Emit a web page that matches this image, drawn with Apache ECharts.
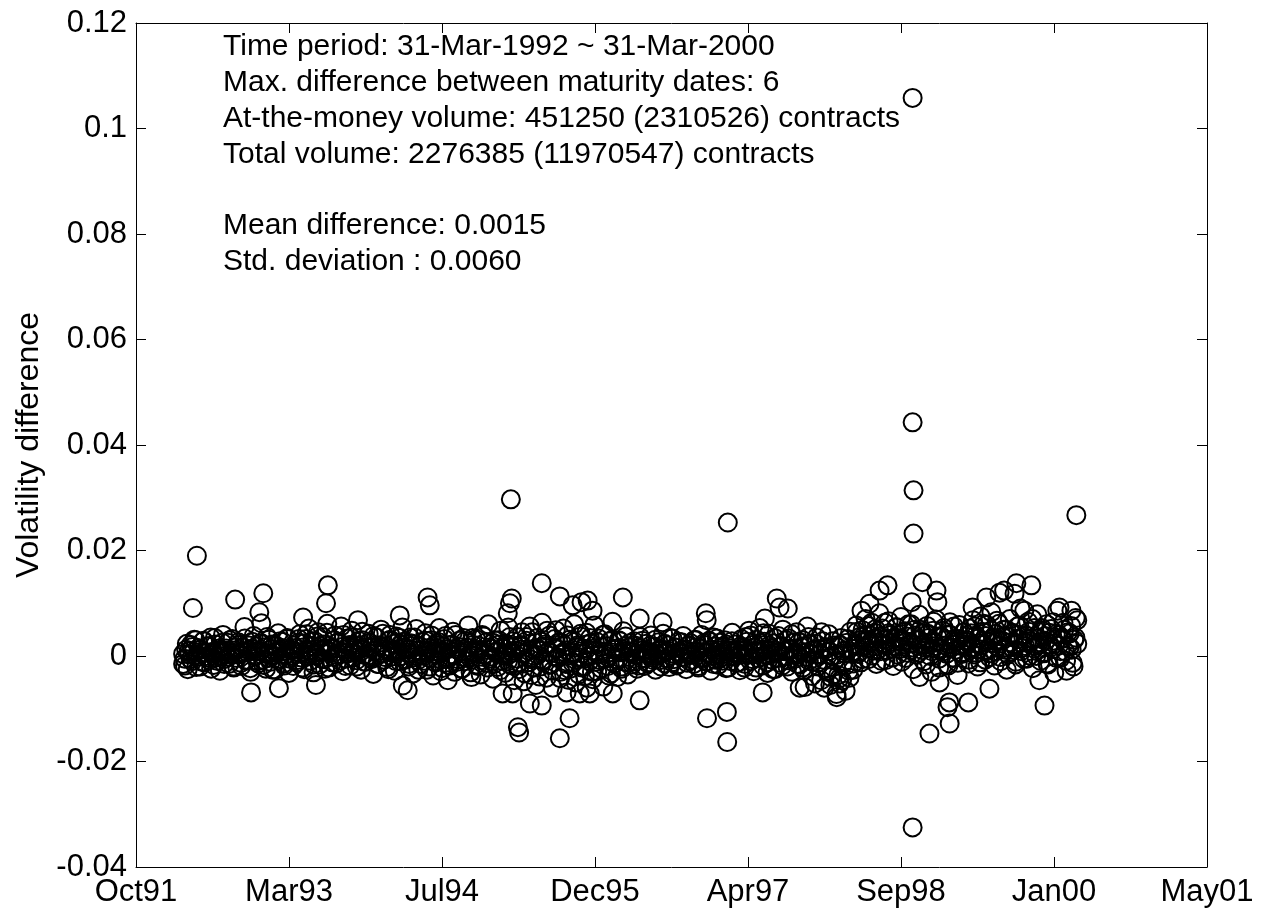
<!DOCTYPE html>
<html>
<head>
<meta charset="utf-8">
<script src="https://cdn.jsdelivr.net/npm/echarts@6/dist/echarts.min.js"></script>
<style>
html,body{margin:0;padding:0;background:#fff;}
#chart{width:1269px;height:917px;}
</style>
</head>
<body>
<div id="chart"></div>
<script>
// ---------- data ----------
const xTickLabels = ['Oct91','Mar93','Jul94','Dec95','Apr97','Sep98','Jan00','May01'];
const xAxisOrigin = '1991-10-29';   // date of the first tick (Oct91)
const xTickStepDays = 500;

const sampleStart = '1992-03-31';
const sampleEnd = '2000-03-31';

// volatility differences (first maturity pair), in date order (Apr .. Mar of next year)
const diffs1992 = [-0.0015,-0.0005,0.0012,-0.0025,0.0003,0.0021,-0.001,0.0008,0.003,-0.0002,
0.0015,-0.002,0.0005,0.0028,-0.0012,0,0.0018,-0.0008,0.0035,0.0006,
-0.0017,0.0022,-0.0003,0.001,-0.0028,0.0009,0.004,-0.0006,0.0014,0.0025,
-0.0015,0.0002,0.0032,-0.0022,0.0011,-0.0004,0.0026,0.0004,-0.0019,0.0017,
0.0055,-0.0009,0.0007,0.002,-0.003,0.0013,0.0038,-0.0001,0.0009,-0.0014,
0.0024,0.0062,-0.0007,0.0016,-0.0024,0.0005,0.0031,-0.0011,0.0022,0.0001,
-0.0026,0.0019,0.0043,-0.0005,0.0008,0.0027,-0.0018,0.0003,0.0034,-0.0032,
0.0012,0,0.002];
const diffs1993 = [0.0008,-0.0012,0.0025,0.0041,-0.0003,0.0016,-0.0025,0.0032,0.0004,0.0052,
-0.0009,0.0019,-0.0031,0.0028,0.0001,0.0045,-0.0016,0.001,0.0036,-0.0006,
0.0022,0.0061,-0.0022,0.0007,0.0015,-0.0002,0.0039,-0.0014,0.0026,0.0003,
0.0056,-0.0029,0.0012,-0.0005,0.0033,0.0018,-0.0018,0.0048,0.0006,0.0021,
-0.0008,0.0068,0.0014,-0.0026,0.003,0.0002,-0.0011,0.0024,0.0042,-0.0004,
0.0017,-0.0034,0.0009,0.0035,-0.0015,0.002,0.005,0.0005,-0.0007,0.0013,
-0.0021,0.0029,0.004,-0.0001,0.0011,-0.0028,0.0037,0.0008,-0.001,0.0023,
0.0054,-0.0006,0.0016];
const diffs1994 = [0.0012,-0.002,0.0035,0.0004,-0.0033,0.0022,0.0051,-0.0008,0.001,-0.0015,
0.0027,0,0.0043,-0.0026,0.0015,-0.0004,0.003,-0.0037,0.0009,0.0024,
-0.0011,0.0053,0.0006,-0.0023,0.0018,0.0038,-0.0002,-0.0017,0.002,0.0003,
0.0046,-0.003,0.0013,-0.0006,0.0029,0.0008,-0.0024,0.0034,-0.001,0.0016,
0.0058,-0.0003,-0.004,0.0021,0.0005,0.0032,-0.0019,0.0011,-0.0035,0.004,
0.0002,0.0025,-0.0013,0.006,-0.0005,0.0014,-0.0043,0.003,0.0007,-0.0021,
0.0022,0.0048,-0.0009,0.0004,-0.0032,0.0019,0.0054,-0.0016,0.0009,0.0028,
-0.0046,0.001,0.0036];
const diffs1995 = [-0.0025,0.0018,0.0045,-0.0048,0.0006,0.0029,-0.0012,0.0056,-0.0036,0.0013,
0,-0.0055,0.0034,0.001,-0.002,0.0063,-0.0007,0.0022,-0.0041,0.0008,
0.0039,-0.0016,-0.006,0.0015,0.0049,-0.0004,0.0026,-0.003,0.0003,0.0052,
-0.0027,0.0011,-0.0045,0.0031,0.0005,-0.0013,0.006,-0.005,0.002,-0.0002,
0.0037,-0.0022,0.0014,-0.0038,0.0044,0.0001,-0.001,0.0025,-0.0044,0.0058,
0.0009,-0.0029,0.0033,-0.0008,0.0017,-0.0058,0.0041,0.0004,-0.0019,0.0028,
-0.0033,0.0065,0.0012,-0.0006,-0.004,0.003,0.0007,-0.0024,0.0047,-0.0011,
0.0019,-0.0035,0.0024];
const diffs1996 = [0.0009,-0.0016,0.0028,0.0002,-0.0024,0.0015,0.0036,-0.0005,0.0011,-0.0019,
0.0023,0.0006,-0.0012,0.0039,-0.0003,0.0018,-0.0026,0.0004,0.0026,-0.0008,
0.0013,0.0042,-0.0014,0.0008,0.002,-0.0021,0.0001,0.0033,-0.0006,0.0016,
-0.0018,0.0027,0.0005,-0.0002,0.0038,0.001,-0.0025,0.0019,-0.0009,0.0024,
0.0003,-0.0015,0.0031,0.0007,-0.0022,0.0014,0.004,-0.0004,0.0021,-0.0011,
0.0006,0.0029,-0.0028,0.0012,0.0035,-0.0007,0.0002,-0.0017,0.0025,0.0017,
-0.0001,0.003,-0.0023,0.0009,0.0015,-0.001,0.0044,0,0.0022,-0.0013,
0.0011,-0.0027,0.0032];
const diffs1997 = [0.0014,-0.0022,0.0036,0.0005,0.0048,-0.001,0.0021,-0.0029,0.001,0.0031,
-0.0004,0.0053,0.0008,-0.0018,0.0027,0.0002,-0.0032,0.0042,0.0015,-0.0007,
0.0024,-0.0025,0.0006,0.0038,-0.0013,0.0019,0.005,-0.0001,0.0009,-0.002,
0.0033,0.0012,-0.003,0.0026,-0.0005,0.0045,0.0003,-0.0016,0.0017,0.003,
-0.0027,0.0007,0.0056,-0.0009,0.0022,-0.0038,0.0011,-0.0052,0.0035,-0.0012,
0.0004,-0.0046,0.0028,-0.006,0.0013,-0.0024,0.0041,-0.0055,0,-0.0035,
0.002,-0.0072,0.0016,-0.0042,0.0034,-0.0017,0.0005,-0.0066,0.0025,-0.0028,
0.0046,0.0008,-0.0014];
const diffs1998 = [0.0023,0.0058,0.0004,0.0036,-0.0012,0.0049,0.0017,0.007,0.0029,-0.0006,
0.0039,0.0063,0.001,0.0044,-0.0015,0.0026,0.0081,0.0009,0.0052,0.0031,
-0.0008,0.002,0.0066,0.004,0.0014,-0.0019,0.0033,0.0055,0.0002,0.0028,
0.0074,0.0018,0.0046,-0.0004,0.0037,0.006,0.0011,0.0024,-0.0025,0.005,
0.003,0.0006,0.0078,0.0021,0.0043,-0.001,0.0015,0.0057,0.0034,0,
-0.003,0.0048,0.0025,0.0069,0.0013,-0.0022,0.0038,0.0008,0.0053,0.002,
-0.0016,0.0041,0.0064,0.0016,-0.0003,0.0032,0.0027,-0.0036,0.0059,0.0019,
0.0004,0.0045,0.0022];
const diffs1999 = [0.003,-0.0014,0.0052,0.0016,0.0068,0.0003,0.0039,-0.002,0.0024,0.0075,
0.0046,0.001,-0.0007,0.0059,0.0028,0.0005,0.0083,0.0035,-0.0018,0.0042,
0.0018,0.0061,-0.0002,0.0029,0.005,0.0012,-0.0026,0.0037,0.007,0.0008,
0.0044,0.0021,-0.0011,0.0056,0.0032,0.009,0.0015,-0.0005,0.004,0.0025,
0.0065,0.0001,0.0033,-0.0023,0.0053,0.0019,0.0079,0.0026,-0.0009,0.0048,
0.0007,0.0038,0.006,-0.0016,0.0022,0.0051,0.0013,-0.0032,0.0041,0.0086,
0.002,-0.0004,0.0034,0.0063,0.0009,-0.0028,0.0045,0.0017,0.0057,-0.0013,
0.0031,0.0072,0.0023];

// volatility differences (second maturity pair), in date order
const pair2_1992 = [0.0004,-0.0018,0.0023,0.0009,-0.0006,0.0017,0.0031,-0.0021,0.0002,0.0012,
-0.0011,0.0029,0.0006,-0.0003,0.0019,-0.0024,0.0008,0.0034,-0.0009,0.0014,
0,0.0025,-0.0015,0.001,-0.0002,0.003,0.0005,-0.002,0.0016,0.0003,
0.0021,-0.0013,0.0007,0.0033,-0.0007,0.0011,-0.0023,0.0027,0.0001,0.0018,
-0.001,0.0009,0.0024,-0.0017,0.0004,0.0036,-0.0004,0.0013,-0.0026,0.002,
0.0006,-0.0008,0.0028,0.0015,-0.0014,0.0002,0.0032,-0.0005,0.001,-0.0019];
const pair2_1993 = [0.0015,-0.0008,0.0032,0.0004,-0.0022,0.0024,0.0041,-0.0001,0.0011,0.0028,
-0.0016,0.0007,0.0037,0.0019,-0.0005,0.0022,-0.0024,0.0044,0.0009,0.0014,
-0.0012,0.003,0.0002,0.0026,-0.0009,0.0017,0.004,-0.0019,0.0005,0.0021,
0.0035,-0.0003,0.0012,-0.002,0.0029,0.0008,0.0046,-0.0011,0.0016,0.0001,
0.0025,-0.0006,0.0038,0.001,-0.0015,0.002,0.0004,0.0042,-0.0002,0.0018,
-0.0025,0.0031,0.0006,0.0023,-0.001,0.0013,0.0034,0,0.0027,-0.0007];
const pair2_1994 = [0.0006,-0.0015,0.0024,-0.0003,0.0035,0.0011,-0.0026,0.0018,0.0002,-0.0009,
0.0029,0.0008,-0.002,0.0039,0.0004,-0.0012,0.0015,0.0026,-0.0029,0.0009,
0.0032,-0.0006,0.0013,-0.0018,0.0022,0,0.004,-0.0011,0.0017,-0.0024,
0.0005,0.0028,-0.0004,0.001,-0.0031,0.0034,0.0007,-0.0016,0.002,0.0012,
-0.0008,0.0037,0.0003,-0.0022,0.0016,-0.0001,0.0025,-0.0014,0.0009,0.003,
-0.0027,0.0014,0.0001,0.0023,-0.001,0.0036,0.0006,-0.0019,0.0019,-0.0005];
const pair2_1995 = [-0.0012,0.0021,0.0004,-0.0033,0.0036,0.001,-0.0006,0.0045,-0.0022,0.0015,
0.0002,-0.0039,0.0027,-0.0009,0.0018,0.0048,-0.0017,0.0006,-0.0028,0.0032,
0.0013,-0.0003,-0.0042,0.0024,0.0008,-0.0015,0.0039,-0.0025,0.0001,0.0029,
-0.0007,0.0016,-0.0035,0.0042,0.0005,-0.0019,0.0022,-0.0002,0.0034,-0.003,
0.0011,-0.0011,0.0026,0.0003,-0.0024,0.004,-0.0005,0.0019,-0.0037,0.0007,
0.0031,-0.0014,0.0014,-0.0008,0.0028,-0.002,0.0009,0.0037,-0.0013,0.0017];
const pair2_1996 = [0.0007,-0.0011,0.002,0.0003,-0.0018,0.0014,0.0029,-0.0004,0.0009,-0.0014,
0.0019,0.0005,-0.0008,0.0031,0.0001,0.0012,-0.002,0.0006,0.0023,-0.0005,
0.001,0.0034,-0.0012,0.0004,0.0016,-0.0016,0.0008,0.0026,-0.0002,0.0013,
-0.0013,0.0021,0.0002,-0.0007,0.003,0.0009,-0.0019,0.0015,-0.0003,0.0024,
0.0006,-0.001,0.0027,0,-0.0015,0.0018,0.0033,-0.0006,0.0011,-0.0009,
0.0004,0.0022,-0.0022,0.001,0.0028,-0.0001,0.0007,-0.0013,0.0017,0.0002];
const pair2_1997 = [0.001,-0.0015,0.0027,0.0003,0.0039,-0.0006,0.0016,-0.0022,0.0007,0.0024,
-0.0001,0.0043,0.0012,-0.0012,0.002,0.0004,-0.0025,0.0034,0.001,-0.0004,
0.0018,-0.0018,0.0009,0.003,-0.0008,0.0014,0.0041,0.0002,0.0006,-0.0015,
0.0026,0.0008,-0.0022,0.0019,-0.0002,0.0036,0.0005,-0.0011,0.0013,0.0023,
-0.002,0.0003,0.0045,-0.0007,0.0017,-0.003,0.0009,-0.004,0.0028,-0.0009,
0.0002,-0.0036,0.0021,-0.0046,0.001,-0.0018,0.0032,-0.0041,0.0004,-0.0026];
const pair2_1998 = [0.002,0.0046,0.0008,0.003,-0.0006,0.004,0.0015,0.0057,0.0025,0.0001,
0.0033,0.0051,0.0012,0.0037,-0.0009,0.0022,0.0063,0.001,0.0043,0.0027,
-0.0003,0.0018,0.0054,0.0034,0.0013,-0.0011,0.0029,0.0047,0.0006,0.0023,
0.006,0.0016,0.0039,0.0002,0.0031,0.005,0.0011,0.0021,-0.0016,0.0042,
0.0026,0.0009,0.0065,0.0019,0.0036,-0.0005,0.0014,0.0048,0.003,0.0004,
-0.0018,0.004,0.0022,0.0056,0.0012,-0.0013,0.0032,0.0007,0.0045,0.0018];
const pair2_1999 = [0.0026,-0.0007,0.0043,0.0014,0.0056,0.0006,0.0033,-0.0012,0.0021,0.0061,
0.0038,0.0011,-0.0002,0.0048,0.0024,0.0008,0.0067,0.003,-0.001,0.0036,
0.0016,0.005,0.0003,0.0026,0.0042,0.0011,-0.0016,0.0032,0.0058,0.0009,
0.0037,0.0019,-0.0005,0.0046,0.0028,0.007,0.0014,0,0.0034,0.0022,
0.0053,0.0005,0.0029,-0.0014,0.0044,0.0017,0.0064,0.0023,-0.0004,0.004,
0.0009,0.0032,0.005,-0.0009,0.002,0.0043,0.0012,-0.002,0.0035,0.0068];

// larger deviations, with their dates
const spikeDates = [
'1992-05-15','1992-05-02','1992-09-17','1992-12-18','1992-12-05','1993-07-17','1993-07-11','1993-04-27',
'1992-11-08','1993-02-07','1993-06-08',
'1994-06-08','1994-06-15','1994-03-09','1995-03-10','1995-03-04','1995-02-25','1995-06-16','1995-08-14',
'1995-09-25','1995-10-24','1995-03-07',
'1994-04-04','1994-03-19','1994-08-13','1995-02-08','1995-03-13','1995-05-08','1995-06-16','1995-03-30',
'1995-04-03','1995-09-15','1995-08-14','1995-09-05','1995-10-18',
'1996-03-07','1995-11-13','1995-11-29','1996-05-01','1996-07-15','1996-12-03','1996-12-06',
'1997-07-23','1997-08-01','1997-08-28','1997-06-14',
'1995-11-10','1995-11-20','1996-02-03','1996-05-01','1996-12-07','1997-02-10','1997-02-11',
'1997-06-07','1997-10-06','1997-02-13',
'1998-07-20','1998-06-24','1998-05-22','1998-04-26','1998-11-11','1998-12-27','1998-12-30','1998-10-07',
'1999-06-08','1999-07-21','1999-09-14','1999-04-24','1999-11-02','2000-02-02','2000-03-12',
'1999-08-05','1999-09-08','1999-10-10',
'1998-10-10','1998-10-10','1998-10-13','1998-10-13','1998-10-10',
'1997-10-22','1998-02-04','1998-02-14','1998-11-01','1999-01-06','1999-02-07','1999-02-01','1999-04-10',
'1999-02-08','1998-12-04','1999-06-18','1999-12-15','1999-11-28',
'2000-03-28'
];
const spikeValues = [
0.0190,0.0091,0.0107,0.0119,0.0083,0.0134,0.0100,0.0073,
-0.0069,-0.0061,-0.0055,
0.0111,0.0096,0.0077,0.0109,0.0100,0.0081,0.0138,0.0113,
0.0096,0.0102,0.0297,
-0.0065,-0.0056,-0.0046,-0.0071,-0.0071,-0.0090,-0.0094,-0.0135,
-0.0145,-0.0118,-0.0156,-0.0069,-0.0071,
0.0111,0.0105,0.0086,0.0071,0.0064,0.0081,0.0068,
0.0109,0.0092,0.0090,0.0071,
-0.0060,-0.0071,-0.0071,-0.0084,-0.0118,-0.0106,-0.0163,
-0.0069,-0.0060,0.0253,
0.0134,0.0124,0.0099,0.0086,0.0140,0.0124,0.0102,0.0102,
0.0111,0.0120,0.0138,0.0092,0.0134,0.0092,0.0086,
0.0124,0.0118,0.0086,
0.1058,0.0443,0.0314,0.0232,-0.0325,
-0.0059,-0.0078,-0.0052,-0.0040,-0.0050,-0.0088,-0.0097,-0.0088,
-0.0128,-0.0147,-0.0062,-0.0094,-0.0046,
0.0267
];

const annotationLines = [
'Time period: 31-Mar-1992 ~ 31-Mar-2000',
'Max. difference between maturity dates: 6',
'At-the-money volume: 451250 (2310526) contracts',
'Total volume: 2276385 (11970547) contracts',
'',
'Mean difference: 0.0015',
'Std. deviation : 0.0060'
];
const yAxisTitle = 'Volatility difference';

// ---------- build ----------
const DAY = 86400000;
function toUTC(s){ const p = s.split('-').map(Number); return Date.UTC(p[0], p[1]-1, p[2]); }
const originMs = toUTC(xAxisOrigin);
function dayOffset(s){ return (toUTC(s) - originMs) / DAY; }

const startDay = dayOffset(sampleStart), endDay = dayOffset(sampleEnd);
function spread(values){
  const step = (endDay - startDay) / (values.length - 1);
  return values.map((v, i) => [startDay + i * step, v]);
}
const firstPair = [].concat(diffs1992, diffs1993, diffs1994, diffs1995, diffs1996, diffs1997, diffs1998, diffs1999);
const secondPair = [].concat(pair2_1992, pair2_1993, pair2_1994, pair2_1995, pair2_1996, pair2_1997, pair2_1998, pair2_1999);
const points = spread(firstPair).concat(spread(secondPair));
spikeDates.forEach((d, i) => points.push([dayOffset(d), spikeValues[i]]));

const FONT = '"Liberation Sans", Arial, Helvetica, sans-serif';
const xMax = xTickStepDays * (xTickLabels.length - 1);

function yFmt(v){ return String(parseFloat(Number(v).toFixed(2))); }

const baseX = {
  type: 'value', min: 0, max: xMax, interval: xTickStepDays,
  axisLine: { show: true, onZero: false, lineStyle: { color: '#000', width: 1 } },
  axisTick: { show: true, inside: true, length: 10, lineStyle: { color: '#000', width: 1 } },
  splitLine: { show: false }
};
const baseY = {
  type: 'value', min: -0.04, max: 0.12, interval: 0.02,
  axisLine: { show: true, onZero: false, lineStyle: { color: '#000', width: 1 } },
  axisTick: { show: true, inside: true, length: 10, lineStyle: { color: '#000', width: 1 } },
  splitLine: { show: false }
};

const chart = echarts.init(document.getElementById('chart'), null, { renderer: 'canvas' });
chart.setOption({
  animation: false,
  backgroundColor: '#fff',
  grid: { left: 136, top: 23, width: 1071, height: 844, containLabel: false },
  xAxis: [
    Object.assign({}, baseX, {
      position: 'bottom',
      axisLabel: { show: true, color: '#000', fontSize: 31, fontFamily: FONT, margin: 10,
        formatter: v => xTickLabels[Math.round(v / xTickStepDays)] }
    }),
    Object.assign({}, baseX, { position: 'top', axisLabel: { show: false } })
  ],
  yAxis: [
    Object.assign({}, baseY, {
      position: 'left',
      name: yAxisTitle, nameLocation: 'middle', nameRotate: 90, nameGap: 86,
      nameTextStyle: { color: '#000', fontSize: 32, fontFamily: FONT },
      axisLabel: { show: true, color: '#000', fontSize: 31, fontFamily: FONT, margin: 9, formatter: yFmt }
    }),
    Object.assign({}, baseY, { position: 'right', axisLabel: { show: false } })
  ],
  graphic: [{
    type: 'text', left: 223, top: 29, z: 10,
    style: { text: annotationLines.join('\n'), fill: '#000', fontSize: 30, fontFamily: FONT, lineHeight: 35.8 }
  }],
  series: [{
    type: 'scatter',
    xAxisIndex: 0, yAxisIndex: 0,
    data: points,
    symbol: 'circle',
    symbolSize: 18,
    itemStyle: { color: 'rgba(0,0,0,0)', borderColor: '#000', borderWidth: 2, opacity: 1 },
    emphasis: { disabled: true },
    silent: true
  }]
});
</script>
</body>
</html>
